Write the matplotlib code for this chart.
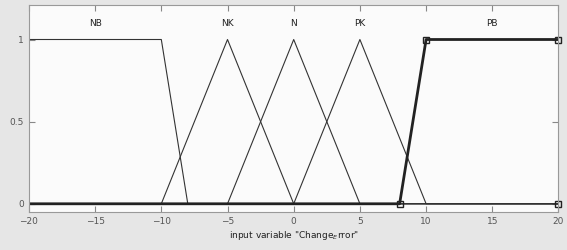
import matplotlib
matplotlib.use('Agg')
import matplotlib.pyplot as plt
import numpy as np

# funkcije pripadnosti za "Change_Error"
names = ['NB', 'NK', 'N', 'PK', 'PB']
nb_x = [-20, -10, -8, 20]
nb_y = [1, 1, 0, 0]
nk_x = [-20, -10, -5, 0, 20]
nk_y = [0, 0, 1, 0, 0]
n_x = [-20, -5, 0, 5, 20]
n_y = [0, 0, 1, 0, 0]
pk_x = [-20, 0, 5, 10, 20]
pk_y = [0, 0, 1, 0, 0]
pb_x = [-20, 8, 10, 20]
pb_y = [0, 0, 1, 1]
pb_mark_x = [8, 10, 20, 20]
pb_mark_y = [0, 1, 1, 0]
label_x = [-15, -5, 0, 5, 15]

fig = plt.figure(figsize=(5.67, 2.5), dpi=100, facecolor='#e6e6e6')
ax = fig.add_axes([0.051, 0.152, 0.934, 0.828])
ax.set_facecolor('#fbfbfb')

thin = dict(color='#333333', lw=0.8)
ax.plot(nb_x, nb_y, **thin)
ax.plot(nk_x, nk_y, **thin)
ax.plot(n_x, n_y, **thin)
ax.plot(pk_x, pk_y, **thin)
ax.plot(pb_x, pb_y, color='#222222', lw=2)
ax.plot(pb_mark_x, pb_mark_y, 's', ms=5, mfc='none', mec='#222222', mew=1, clip_on=False)

for nm, lx in zip(names, label_x):
    ax.text(lx, 1.1, nm, ha='center', va='center', fontsize=6.5, color='#222222')

ax.set_xlim(-20, 20)
ax.set_ylim(-0.05, 1.21)
ax.set_xticks(np.arange(-20, 21, 5))
ax.set_yticks([0, 0.5, 1])
ax.set_yticklabels(['0', '0.5', '1'])
ax.tick_params(direction='in', top=True, right=True, labelsize=6.5,
               labelcolor='#555555', color='#888888', length=4, width=0.8)
for s in ax.spines.values():
    s.set_color('#999999')
    s.set_linewidth(0.8)
ax.set_xlabel('input variable "Change$_E$rror"', fontsize=6.5, color='#222222', labelpad=2)

fig.savefig('out.png', dpi=100, facecolor=fig.get_facecolor())
